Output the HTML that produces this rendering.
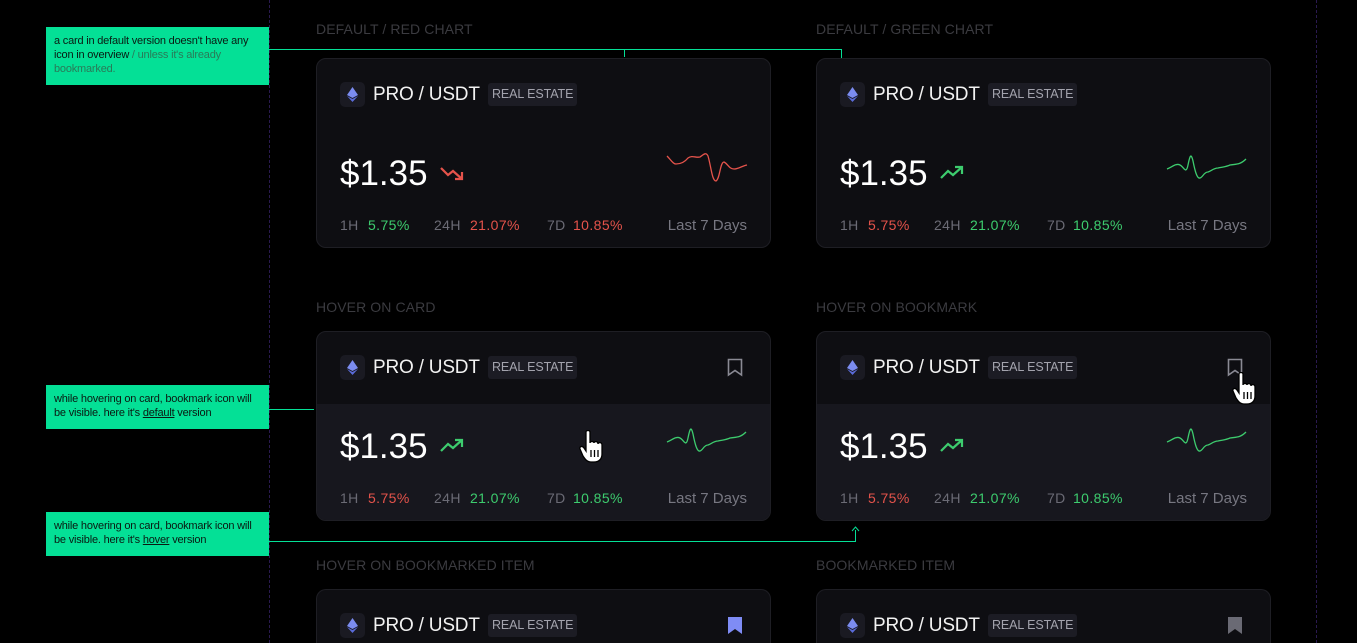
<!DOCTYPE html>
<html><head><meta charset="utf-8"><style>
*{margin:0;padding:0;box-sizing:border-box}
html,body{width:1357px;height:643px;overflow:hidden}
body{background:#000;position:relative;font-family:"Liberation Sans",sans-serif;color:#fff}
.abs{position:absolute}
.lbl{position:absolute;font-size:14px;color:#3b3b40;letter-spacing:0.1px}
.card{position:absolute;width:455px;height:190px;background:#0e0e12;border:1px solid #1e1e24;border-radius:10px;overflow:hidden}
.card.cut{height:54px;border-bottom:none;border-radius:10px 10px 0 0}
.card.hov .body{position:absolute;left:0;top:72px;right:0;bottom:0;background:#17171e}
.ic{position:absolute;left:23px;top:23px;width:25px;height:25px;border-radius:5px;background:#1a1a22}
.ic svg{position:absolute;left:7px;top:5px}
.tt{position:absolute;left:56px;top:24px;font-size:19px;line-height:24px;color:#f2f2f2;letter-spacing:-0.2px}
.tag{position:absolute;left:171px;top:24px;height:23px;padding:0 4px;background:#1c1c24;border-radius:3px;font-size:12.5px;line-height:23px;color:#a3a3ad;letter-spacing:-0.1px}
.pr{position:absolute;left:23px;top:95px;font-size:35px;line-height:40px;color:#fff}
.ar{position:absolute;left:123px;top:106px}
.sp{position:absolute;left:349px;top:92px}
.st{position:absolute;top:157px;font-size:14px;line-height:18px;letter-spacing:0.4px}
.k{color:#6b6b75}.g{color:#3dcc6e}.r{color:#e5534b}
.l7{position:absolute;right:23px;top:157px;font-size:15px;line-height:20px;color:#777781}
.bm{position:absolute;left:410px;top:26px}
.note{position:absolute;left:46px;width:223px;background:#04e096;color:#0a1a12;font-size:11px;line-height:14px;padding:7px 8px;letter-spacing:-0.2px}
</style></head><body>
<div class="abs" style="left:269px;top:0;width:0;height:643px;border-left:1px dashed #2a1a50"></div>
<div class="abs" style="left:1316px;top:0;width:0;height:643px;border-left:1px dashed #2a1a50"></div>

<div class="lbl" style="left:316px;top:21px">DEFAULT / RED CHART</div>
<div class="lbl" style="left:816px;top:21px">DEFAULT / GREEN CHART</div>
<div class="lbl" style="left:316px;top:299px">HOVER ON CARD</div>
<div class="lbl" style="left:816px;top:299px">HOVER ON BOOKMARK</div>
<div class="lbl" style="left:316px;top:557px">HOVER ON BOOKMARKED ITEM</div>
<div class="lbl" style="left:816px;top:557px">BOOKMARKED ITEM</div>

<div class="abs" style="left:269px;top:49px;width:572px;height:1px;background:#04e096"></div>
<div class="abs" style="left:841px;top:49px;width:1px;height:9px;background:#04e096"></div>
<div class="abs" style="left:624px;top:49px;width:1px;height:8px;background:#04e096"></div>
<div class="abs" style="left:269px;top:409px;width:45px;height:1px;background:#04e096"></div>
<div class="abs" style="left:269px;top:541px;width:587px;height:1px;background:#04e096"></div>
<div class="abs" style="left:855px;top:530px;width:1px;height:11px;background:#04e096"></div>
<svg class="abs" style="left:851px;top:526px" width="9" height="6"><path d="M1 5 L4.5 1 L8 5" stroke="#04e096" fill="none"/></svg>

<div class="note" style="top:27px;height:58px;padding-right:14px">a card in default version doesn't have any icon in overview <span style="color:#2a7a58">/ unless it's already bookmarked.</span></div>
<div class="note" style="top:385px;height:44px">while hovering on card, bookmark icon will be visible. here it's <u>default</u> version</div>
<div class="note" style="top:512px;height:44px">while hovering on card, bookmark icon will be visible. here it's <u>hover</u> version</div>

<div class="card" style="left:316px;top:58px">
<div class="ic"><svg width="11" height="15"><path d="M5.5 0 L11 8 L5.5 11 L0 8Z" fill="#7b8cf0"/><path d="M5.5 12 L11 9 L5.5 15 L0 9Z" fill="#5a6bd8"/></svg></div>
<div class="tt">PRO / USDT</div><div class="tag">REAL ESTATE</div>
<div class="pr">$1.35</div>
<svg class="ar" width="26" height="16"><path d="M1 3 L8 10 L13 6 L22 14 M15 14 L22 14 L22 7" stroke="#e5534b" stroke-width="2.2" fill="none"/></svg>
<svg class="sp" width="84" height="42"><path d="M1 5 C5 9,7 13,10 13 C14 13,18 12,22 7 C26 4,30 7,34 6 C38 3,40 1,42 5 C45 15,46 30,50 30 C54 28,54 11,58 11 C62 13,63 18,68 18 C72 18,76 15,81 14" stroke="#e5534b" stroke-width="1.3" fill="none"/></svg>
<div class="st" style="left:23px"><span class="k">1H</span></div><div class="st g" style="left:51px">5.75%</div>
<div class="st" style="left:117px"><span class="k">24H</span></div><div class="st r" style="left:153px">21.07%</div>
<div class="st" style="left:230px"><span class="k">7D</span></div><div class="st r" style="left:256px">10.85%</div>
<div class="l7">Last 7 Days</div>
</div>

<div class="card" style="left:816px;top:58px">
<div class="ic"><svg width="11" height="15"><path d="M5.5 0 L11 8 L5.5 11 L0 8Z" fill="#7b8cf0"/><path d="M5.5 12 L11 9 L5.5 15 L0 9Z" fill="#5a6bd8"/></svg></div>
<div class="tt">PRO / USDT</div><div class="tag">REAL ESTATE</div>
<div class="pr">$1.35</div>
<svg class="ar" width="26" height="16"><path d="M1 13 L8 6 L13 10 L22 2 M15 2 L22 2 L22 9" stroke="#3dcc6e" stroke-width="2.2" fill="none"/></svg>
<svg class="sp" width="84" height="42"><path d="M1 18 C6 16,10 12,14 14 C18 16,20 24,22 14 C24 4,25 2,27 10 C29 20,31 28,34 27 C37 26,38 21,42 21 C45 20,48 17,52 17 C56 16,60 16,64 14 C70 13,74 14,80 8" stroke="#3dcc6e" stroke-width="1.3" fill="none"/></svg>
<div class="st" style="left:23px"><span class="k">1H</span></div><div class="st r" style="left:51px">5.75%</div>
<div class="st" style="left:117px"><span class="k">24H</span></div><div class="st g" style="left:153px">21.07%</div>
<div class="st" style="left:230px"><span class="k">7D</span></div><div class="st g" style="left:256px">10.85%</div>
<div class="l7">Last 7 Days</div>
</div>

<div class="card hov" style="left:316px;top:331px"><div class="body"></div>
<div class="ic"><svg width="11" height="15"><path d="M5.5 0 L11 8 L5.5 11 L0 8Z" fill="#7b8cf0"/><path d="M5.5 12 L11 9 L5.5 15 L0 9Z" fill="#5a6bd8"/></svg></div>
<div class="tt">PRO / USDT</div><div class="tag">REAL ESTATE</div>
<svg class="bm" width="16" height="19"><path d="M1.5 1.5 H14.5 V17 L8 12.5 L1.5 17Z" stroke="#8a8a94" stroke-width="1.6" fill="none"/></svg>
<div class="pr">$1.35</div>
<svg class="ar" width="26" height="16"><path d="M1 13 L8 6 L13 10 L22 2 M15 2 L22 2 L22 9" stroke="#3dcc6e" stroke-width="2.2" fill="none"/></svg>
<svg class="sp" width="84" height="42"><path d="M1 18 C6 16,10 12,14 14 C18 16,20 24,22 14 C24 4,25 2,27 10 C29 20,31 28,34 27 C37 26,38 21,42 21 C45 20,48 17,52 17 C56 16,60 16,64 14 C70 13,74 14,80 8" stroke="#3dcc6e" stroke-width="1.3" fill="none"/></svg>
<div class="st" style="left:23px"><span class="k">1H</span></div><div class="st r" style="left:51px">5.75%</div>
<div class="st" style="left:117px"><span class="k">24H</span></div><div class="st g" style="left:153px">21.07%</div>
<div class="st" style="left:230px"><span class="k">7D</span></div><div class="st g" style="left:256px">10.85%</div>
<div class="l7">Last 7 Days</div>
<svg class="abs" style="left:262px;top:98px" width="30" height="34"><path d="M7 2 C7 0,11 0,11 2 V13 C11 11,15 11,15 13 C15 11,19 11,19 14 C19 12,23 12,23 15 V24 C23 29,20 32,15 32 H12 C8 32,6 29,4 26 L1 19 C0 17,3 15,5 18 L7 21Z" fill="#fff" stroke="#000" stroke-width="1.3"/><path d="M12 20v7M15.5 20v7M19 20v7" stroke="#000" stroke-width="1.3"/></svg>
</div>

<div class="card hov" style="left:816px;top:331px"><div class="body"></div>
<div class="ic"><svg width="11" height="15"><path d="M5.5 0 L11 8 L5.5 11 L0 8Z" fill="#7b8cf0"/><path d="M5.5 12 L11 9 L5.5 15 L0 9Z" fill="#5a6bd8"/></svg></div>
<div class="tt">PRO / USDT</div><div class="tag">REAL ESTATE</div>
<svg class="bm" width="16" height="19"><path d="M1.5 1.5 H14.5 V17 L8 12.5 L1.5 17Z" stroke="#8a8a94" stroke-width="1.6" fill="none"/></svg>
<div class="pr">$1.35</div>
<svg class="ar" width="26" height="16"><path d="M1 13 L8 6 L13 10 L22 2 M15 2 L22 2 L22 9" stroke="#3dcc6e" stroke-width="2.2" fill="none"/></svg>
<svg class="sp" width="84" height="42"><path d="M1 18 C6 16,10 12,14 14 C18 16,20 24,22 14 C24 4,25 2,27 10 C29 20,31 28,34 27 C37 26,38 21,42 21 C45 20,48 17,52 17 C56 16,60 16,64 14 C70 13,74 14,80 8" stroke="#3dcc6e" stroke-width="1.3" fill="none"/></svg>
<div class="st" style="left:23px"><span class="k">1H</span></div><div class="st r" style="left:51px">5.75%</div>
<div class="st" style="left:117px"><span class="k">24H</span></div><div class="st g" style="left:153px">21.07%</div>
<div class="st" style="left:230px"><span class="k">7D</span></div><div class="st g" style="left:256px">10.85%</div>
<div class="l7">Last 7 Days</div>
</div>
<svg class="abs" style="left:1232px;top:372px" width="30" height="34"><path d="M7 2 C7 0,11 0,11 2 V13 C11 11,15 11,15 13 C15 11,19 11,19 14 C19 12,23 12,23 15 V24 C23 29,20 32,15 32 H12 C8 32,6 29,4 26 L1 19 C0 17,3 15,5 18 L7 21Z" fill="#fff" stroke="#000" stroke-width="1.3"/><path d="M12 20v7M15.5 20v7M19 20v7" stroke="#000" stroke-width="1.3"/></svg>

<div class="card cut" style="left:316px;top:589px">
<div class="ic"><svg width="11" height="15"><path d="M5.5 0 L11 8 L5.5 11 L0 8Z" fill="#7b8cf0"/><path d="M5.5 12 L11 9 L5.5 15 L0 9Z" fill="#5a6bd8"/></svg></div>
<div class="tt">PRO / USDT</div><div class="tag">REAL ESTATE</div>
<svg class="bm" width="16" height="19"><path d="M1 1 H15 V18 L8 13 L1 18Z" fill="#7f8cf5"/></svg>
</div>
<div class="card cut" style="left:816px;top:589px">
<div class="ic"><svg width="11" height="15"><path d="M5.5 0 L11 8 L5.5 11 L0 8Z" fill="#7b8cf0"/><path d="M5.5 12 L11 9 L5.5 15 L0 9Z" fill="#5a6bd8"/></svg></div>
<div class="tt">PRO / USDT</div><div class="tag">REAL ESTATE</div>
<svg class="bm" width="16" height="19"><path d="M1 1 H15 V18 L8 13 L1 18Z" fill="#6a6a74"/></svg>
</div>
</body></html>
